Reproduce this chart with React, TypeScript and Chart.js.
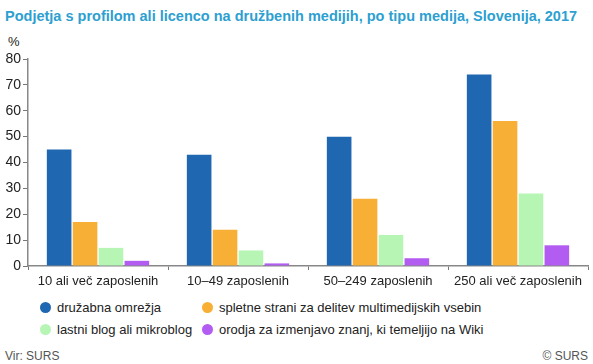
import React, { useEffect, useRef } from "react";
import { Chart, registerables } from "chart.js";

Chart.register(...registerables);

const TITLE = "Podjetja s profilom ali licenco na družbenih medijih, po tipu medija, Slovenija, 2017";
const CATEGORIES = ["10 ali več zaposlenih", "10–49 zaposlenih", "50–249 zaposlenih", "250 ali več zaposlenih"];
const SERIES_NAMES = [
  "družabna omrežja",
  "spletne strani za delitev multimedijskih vsebin",
  "lastni blog ali mikroblog",
  "orodja za izmenjavo znanj, ki temeljijo na Wiki",
];
const SOCIAL = [45, 43, 50, 74];
const MULTIMEDIA = [17, 14, 26, 56];
const BLOG = [7, 6, 12, 28];
const WIKI = [2, 1, 3, 8];
const COLORS = ["#1f67b0", "#f7b035", "#b7f5b5", "#b35cf2"];
const Y_TICKS = [0, 10, 20, 30, 40, 50, 60, 70, 80];

const FONT = "'Liberation Sans', Arial, sans-serif";

export default function App() {
  const ref = useRef<HTMLCanvasElement>(null);
  useEffect(() => {
    const values = [SOCIAL, MULTIMEDIA, BLOG, WIKI];
    const chart = new Chart(ref.current!, {
      type: "bar",
      data: {
        labels: CATEGORIES,
        datasets: values.map((v, i) => ({
          label: SERIES_NAMES[i],
          data: v,
          backgroundColor: COLORS[i],
          borderWidth: 0,
          categoryPercentage: 0.74,
          barPercentage: 0.95,
        })),
      },
      options: {
        responsive: false,
        animation: false,
        layout: { padding: { top: 19, right: 5, left: 0, bottom: 0 } },
        plugins: { legend: { display: false }, tooltip: { enabled: false } },
        scales: {
          x: {
            grid: { display: true, drawOnChartArea: false, drawTicks: true, tickLength: 4, color: "#777", offset: true },
            border: { display: true, color: "#888", width: 1.5 },
            ticks: { color: "#222", font: { family: FONT, size: 13 }, padding: 4, maxRotation: 0 },
            afterFit: (s: any) => { s.height = 30; },
          },
          y: {
            min: 0,
            max: 80,
            afterBuildTicks: (s: any) => { s.ticks = Y_TICKS.map((v) => ({ value: v })); },
            grid: { display: true, drawOnChartArea: false, drawTicks: true, tickLength: 5, color: "#777" },
            border: { display: true, color: "#888", width: 1.5 },
            ticks: { color: "#222", font: { family: FONT, size: 14 }, padding: 2 },
            afterFit: (s: any) => { s.width = 28; },
          },
        },
      },
    });
    return () => chart.destroy();
  }, []);

  const legendItem = (i: number, x: number, y: number) => (
    <div key={i} style={{ position: "absolute", left: x, top: y, display: "flex", alignItems: "center", whiteSpace: "nowrap" }}>
      <span style={{ width: 11, height: 11, borderRadius: "50%", background: COLORS[i], display: "inline-block", marginRight: 6 }} />
      <span style={{ fontSize: 13, color: "#222" }}>{SERIES_NAMES[i]}</span>
    </div>
  );

  return (
    <div style={{ position: "absolute", left: 0, top: 0, width: 593, height: 364, background: "#fff", fontFamily: FONT, overflow: "hidden" }}>
      <div style={{ position: "absolute", left: 5, top: 8, fontSize: 14.5, fontWeight: "bold", color: "#2d9fd0", whiteSpace: "nowrap" }}>{TITLE}</div>
      <div style={{ position: "absolute", left: 8, top: 34, fontSize: 13, color: "#222" }}>%</div>
      <canvas ref={ref} width={593} height={256} style={{ position: "absolute", left: 0, top: 40, width: 593, height: 256 }} />
      {legendItem(0, 40, 300)}
      {legendItem(1, 202, 300)}
      {legendItem(2, 40, 322)}
      {legendItem(3, 202, 322)}
      <div style={{ position: "absolute", left: 5, top: 349, fontSize: 12, color: "#555" }}>Vir: SURS</div>
      <div style={{ position: "absolute", right: 5, top: 349, fontSize: 12, color: "#555" }}>© SURS</div>
    </div>
  );
}
